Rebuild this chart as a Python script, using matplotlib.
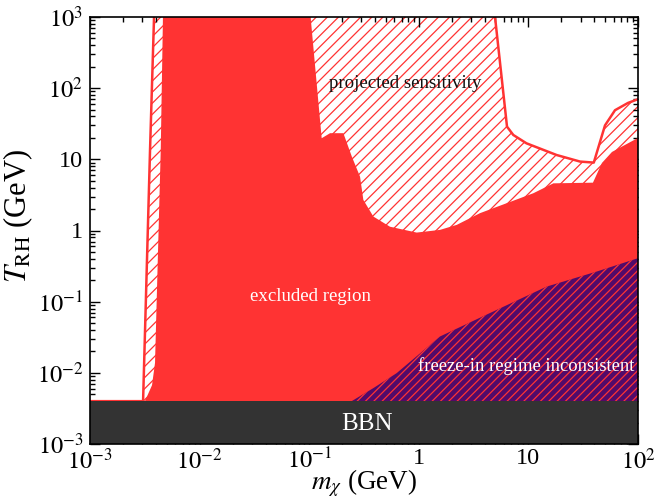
import numpy as np
import matplotlib
matplotlib.use("Agg")
import matplotlib.pyplot as plt

plt.rcParams['font.family'] = ['Liberation Serif', 'DejaVu Serif']
plt.rcParams['mathtext.fontset'] = 'stix'
plt.rcParams['hatch.linewidth'] = 0.9

RED = '#FF3333'
PURPLE = '#520A6A'
BBN_COL = '#333333'

X_MIN, X_MAX = 1e-3, 1e2
Y_MIN, Y_MAX = 1e-3, 1e3
T_BBN = 4e-3

# excluded region boundary (m_chi [GeV], T_RH [GeV])
excl_m = [3.17e-3, 3.68e-3, 3.92e-3, 4.42e-3, 4.63e-3, 0.103, 0.130, 0.155, 0.205,
          0.245, 0.291, 0.312, 0.385, 0.546, 0.957, 1.56, 2.22, 3.61, 6.34, 11.1,
          16.9, 38.8, 46.9, 57.9, 100]
excl_T = [4e-3, 6.7e-3, 0.0138, 13.5, 1e3, 1e3, 19.8, 23.3, 23.3,
          10.9, 5.7, 2.69, 1.57, 1.13, 0.935, 1.02, 1.2, 1.75, 2.42, 3.34,
          4.6, 4.7, 8.9, 12.7, 20]

# projected sensitivity boundary
proj_m = [1e-3, 3.05e-3, 3.53e-3, 3.84e-3, 4.96, 6.38, 7.28, 9.6, 18.1, 29.6,
          39.5, 50, 61.7, 81, 100]
proj_T = [4e-3, 4e-3, 13.5, 1e3, 1e3, 28.8, 22, 16.8, 11.5, 9.3,
          9.0, 30, 49, 62, 70]

# freeze-in inconsistent boundary
fi_m = [0.244, 0.385, 0.628, 1.56, 5.14, 14.7, 42, 100]
fi_T = [4e-3, 6.1e-3, 9.9e-3, 0.0324, 0.0767, 0.163, 0.265, 0.408]

x_ticks = [1e-3, 1e-2, 1e-1, 1, 10, 100]
x_labels = [r'$10^{-3}$', r'$10^{-2}$', r'$10^{-1}$', '1', '10', r'$10^{2}$']
y_ticks = [1e-3, 1e-2, 1e-1, 1, 10, 100, 1000]
y_labels = [r'$10^{-3}$', r'$10^{-2}$', r'$10^{-1}$', '1', '10', r'$10^{2}$', r'$10^{3}$']

fig = plt.figure(figsize=(6.65, 5.0), dpi=100)
ax = fig.add_axes([90/665, 1-444/500, (638-90)/665, (444-17)/500])
ax.set_xscale('log')
ax.set_yscale('log')
ax.set_xlim(X_MIN, X_MAX)
ax.set_ylim(Y_MIN, Y_MAX)

# projected sensitivity (hatched)
pm = np.r_[proj_m, X_MAX]
pT = np.r_[proj_T, T_BBN]
ax.fill(pm, pT, facecolor='white', edgecolor=RED, hatch='///', linewidth=0, zorder=1)
ax.plot(proj_m[:4], proj_T[:4], color=RED, lw=1.8, zorder=2)
ax.plot(proj_m[4:], proj_T[4:], color=RED, lw=1.8, zorder=2)

# excluded region
em = np.r_[excl_m, X_MAX]
eT = np.r_[excl_T, T_BBN]
ax.fill(em, eT, facecolor=RED, edgecolor='none', linewidth=0, zorder=3)

# freeze-in inconsistent
fm = np.r_[fi_m, X_MAX]
fT = np.r_[fi_T, T_BBN]
ax.fill(fm, fT, facecolor=PURPLE, edgecolor='none', linewidth=0, zorder=4)
ax.fill(fm, fT, facecolor='none', edgecolor=RED, hatch='////', linewidth=0, zorder=5)

# BBN
ax.axhspan(Y_MIN, T_BBN, color=BBN_COL, lw=0, zorder=6)

ax.text(0.75, 115, 'projected sensitivity', fontsize=13.6, color='#111111',
        ha='center', va='center', zorder=7)
ax.text(0.102, 0.117, 'excluded region', fontsize=13.6, color='white',
        ha='center', va='center', zorder=7)
ax.text(0.984, 0.0123, 'freeze-in regime inconsistent', fontsize=13.4, color='white',
        ha='left', va='center', zorder=7, clip_on=True)
ax.text(0.336, 1.92e-3, 'BBN', fontsize=18, color='white',
        ha='center', va='center', zorder=7)

ax.set_xticks(x_ticks, labels=x_labels)
ax.set_yticks(y_ticks, labels=y_labels)
ax.xaxis.set_minor_locator(matplotlib.ticker.LogLocator(base=10, subs=np.arange(2, 10)))
ax.yaxis.set_minor_locator(matplotlib.ticker.LogLocator(base=10, subs=np.arange(2, 10)))
ax.xaxis.set_minor_formatter(matplotlib.ticker.NullFormatter())
ax.yaxis.set_minor_formatter(matplotlib.ticker.NullFormatter())
ax.tick_params(which='both', direction='in', top=True, right=True, labelsize=17.5, width=1.0)
ax.tick_params(which='major', length=7, pad=5)
ax.tick_params(which='minor', length=3.5)
ax.tick_params(axis='x', which='major', pad=3)
for s in ax.spines.values():
    s.set_linewidth(1.2)
    s.set_zorder(10)

ax.set_xlabel(r'$m_\chi$ (GeV)', fontsize=19.5, va='bottom')
ax.set_ylabel(r'$T_{\rm RH}$ (GeV)', fontsize=22)
ax.xaxis.set_label_coords(0.5, -(499 - 444) / 427)
ax.yaxis.set_label_coords(-0.10, 0.534)

fig.savefig('out.png', dpi=100)
